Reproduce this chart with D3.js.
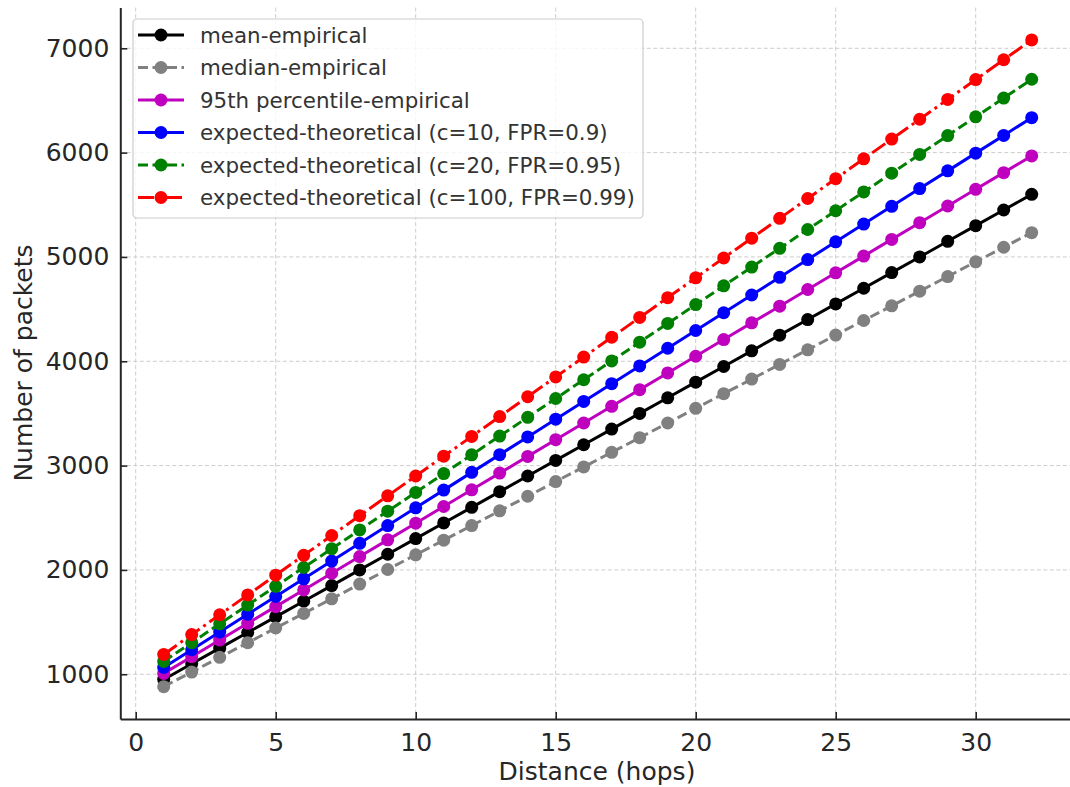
<!DOCTYPE html>
<html>
<head>
<meta charset="utf-8">
<script src="https://cdn.jsdelivr.net/npm/d3@7"></script>
<style>
  body { margin: 0; background: #fff; }
  svg { display: block; font-family: "DejaVu Sans", sans-serif; }
</style>
</head>
<body>
<svg width="1070" height="787"></svg>
<script>
// hops 1..32
const hops = [1,2,3,4,5,6,7,8,9,10,11,12,13,14,15,16,17,18,19,20,21,22,23,24,25,26,27,28,29,30,31,32];

const meanEmp = [950,1100,1250,1400,1550,1700,1850,2000,2150,2300,2450,2600,2750,2900,3050,3200,
  3350,3500,3650,3800,3950,4100,4250,4400,4550,4700,4850,5000,5150,5300,5450,5600];
const medianEmp = [881,1021,1162,1302,1443,1583,1723,1864,2004,2145,2285,2425,2566,2706,2847,2987,
  3127,3268,3408,3549,3689,3829,3970,4110,4251,4391,4531,4672,4812,4953,5093,5233];
const p95Emp = [1008,1168,1328,1488,1648,1808,1968,2128,2288,2448,2608,2768,2928,3088,3248,3408,
  3568,3728,3888,4048,4208,4368,4528,4688,4848,5008,5168,5328,5488,5648,5808,5968];
const theo10 = [1065,1235,1405,1575,1745,1915,2085,2255,2425,2595,2765,2935,3105,3275,3445,3615,
  3785,3955,4125,4295,4465,4635,4805,4975,5145,5315,5485,5655,5825,5995,6165,6335];
const theo20 = [1123,1303,1483,1663,1843,2023,2203,2383,2563,2743,2923,3103,3283,3463,3643,3823,
  4003,4183,4363,4543,4723,4903,5083,5263,5443,5623,5803,5983,6163,6343,6523,6703];
const theo100 = [1190,1380,1570,1760,1950,2140,2330,2520,2710,2900,3090,3280,3470,3660,3850,4040,
  4230,4420,4610,4800,4990,5180,5370,5560,5750,5940,6130,6320,6510,6700,6890,7080];

const xTicks = [0,5,10,15,20,25,30];
const yTicks = [1000,2000,3000,4000,5000,6000,7000];

const seriesNames = ['mean-empirical','median-empirical','95th percentile-empirical',
  'expected-theoretical (c=10, FPR=0.9)','expected-theoretical (c=20, FPR=0.95)',
  'expected-theoretical (c=100, FPR=0.99)'];
const seriesValues = [meanEmp, medianEmp, p95Emp, theo10, theo20, theo100];
const seriesColors = ['#000000','#808080','#bf00bf','#0000ff','#008000','#ff0000'];
const seriesDash = [null,'10,4.5',null,null,'10,4.5','16,4.5,3,4.5'];

const svg = d3.select('svg');
const plotLeft = 120.3, plotRight = 1075.1, plotTop = 7.6, plotBottom = 719;

const x = d3.scaleLinear().domain([-0.55, 33.55]).range([plotLeft, plotRight]);
const y = d3.scaleLinear().domain([571, 7390]).range([plotBottom, plotTop]);

// grid
const grid = svg.append('g');
grid.selectAll('.gx').data(xTicks).join('line')
  .attr('x1', d => x(d)).attr('x2', d => x(d))
  .attr('y1', plotTop).attr('y2', plotBottom)
  .attr('stroke', '#cccccc').attr('stroke-width', 1).attr('stroke-dasharray', '4,2.5');
grid.selectAll('.gy').data(yTicks).join('line')
  .attr('x1', plotLeft).attr('x2', plotRight)
  .attr('y1', d => y(d)).attr('y2', d => y(d))
  .attr('stroke', '#cccccc').attr('stroke-width', 1).attr('stroke-dasharray', '4,2.5');

// series
const line = d3.line().x((d, i) => x(hops[i])).y(d => y(d));
seriesValues.forEach((vals, k) => {
  const g = svg.append('g');
  g.append('path').datum(vals)
    .attr('d', line)
    .attr('fill', 'none')
    .attr('stroke', seriesColors[k])
    .attr('stroke-width', 3)
    .attr('stroke-dasharray', seriesDash[k]);
  g.selectAll('circle').data(vals).join('circle')
    .attr('cx', (d, i) => x(hops[i]))
    .attr('cy', d => y(d))
    .attr('r', 6.5)
    .attr('fill', seriesColors[k]);
});

// axes (only left and bottom spines, ticks inward)
const axisColor = '#262626';
const xAxis = svg.append('g').attr('transform', `translate(0,${plotBottom})`)
  .call(d3.axisBottom(x).tickValues(xTicks).tickSize(-7).tickPadding(14).tickSizeOuter(0));
const yAxis = svg.append('g').attr('transform', `translate(${plotLeft},0)`)
  .call(d3.axisLeft(y).tickValues(yTicks).tickSize(-7).tickPadding(11).tickSizeOuter(0).tickFormat(d3.format('d')));
[xAxis, yAxis].forEach(a => {
  a.select('.domain').attr('stroke', axisColor).attr('stroke-width', 2);
  a.selectAll('.tick line').attr('stroke', axisColor).attr('stroke-width', 1.6);
  a.selectAll('.tick text').attr('fill', axisColor)
    .style('font-size', '25px').style('font-family', '"DejaVu Sans", sans-serif');
});

svg.append('text')
  .attr('x', 597).attr('y', 780)
  .attr('text-anchor', 'middle').attr('fill', axisColor)
  .style('font-size', '25px')
  .text('Distance (hops)');
svg.append('text')
  .attr('transform', 'translate(32,363) rotate(-90)')
  .attr('text-anchor', 'middle').attr('fill', axisColor)
  .style('font-size', '25px')
  .text('Number of packets');

// legend
const legend = svg.append('g');
legend.append('rect')
  .attr('x', 133).attr('y', 19).attr('width', 510).attr('height', 199)
  .attr('rx', 4).attr('fill', '#fff').attr('fill-opacity', 0.8)
  .attr('stroke', '#cccccc').attr('stroke-width', 1.2);
seriesNames.forEach((name, k) => {
  const ly = 35 + k * 32.5;
  legend.append('line')
    .attr('x1', 138).attr('x2', 184).attr('y1', ly).attr('y2', ly)
    .attr('stroke', seriesColors[k]).attr('stroke-width', 3)
    .attr('stroke-dasharray', seriesDash[k]);
  legend.append('circle').attr('cx', 161).attr('cy', ly).attr('r', 6.5).attr('fill', seriesColors[k]);
  legend.append('text')
    .attr('x', 200).attr('y', ly).attr('dy', '0.36em')
    .attr('fill', '#333333').style('font-size', '21.4px')
    .text(name);
});
</script>
</body>
</html>
